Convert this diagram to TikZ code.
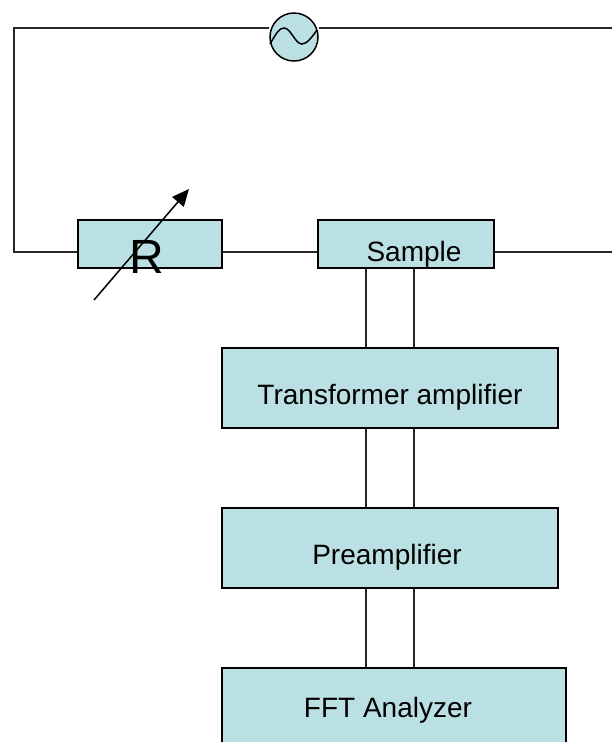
\documentclass[tikz,border=0pt]{standalone}
\usepackage{fontspec}
\setmainfont{Liberation Sans}
\usetikzlibrary{calc, arrows.meta}
\definecolor{boxteal}{HTML}{BBE0E3}
\tikzset{
  block/.style={draw=black, line width=1.5pt, fill=boxteal, inner sep=0pt},
  wire/.style={draw=black!85, line width=1.5pt, line join=miter},
  caption/.style={anchor=base, inner sep=0pt, font=\fontsize{28}{32}\selectfont}
}

\begin{document}
\begin{tikzpicture}[x=1pt, y=-1pt]
    \useasboundingbox (0,0) rectangle (612,742);
    \clip (0,0) rectangle (612,742);

    % Corners and the two parallel leads
    \coordinate (topleft) at (14,28);
    \coordinate (botleft) at (14,252);
    \coordinate (topright) at (612,28);
    \coordinate (botright) at (612,252);
    \coordinate (leadl) at (366,300);
    \coordinate (leadr) at (414,300);

    % Blocks
    \node[block, minimum width=144pt, minimum height=48pt] (resistor) at (150,244) {};
    \node[block, minimum width=176pt, minimum height=48pt] (sample) at (406,244) {};
    \node[block, minimum width=336pt, minimum height=80pt] (transformer) at (390,388) {};
    \node[block, minimum width=336pt, minimum height=80pt] (preamp) at (390,548) {};
    \node[block, minimum width=344pt, minimum height=80pt] (fft) at (394,708) {};
    \node[block, circle, minimum size=48pt] (source) at (294,37) {};

    % Sine in the source
    \draw[line width=1.5pt] (270,44) .. controls (276,34) and (279,28) .. (284,28)
        .. controls (291,28) and (295,44) .. (302,44)
        .. controls (307,44) and (312,37) .. (317,30);

    % Circuit
    \draw[wire] (source.west |- topleft) -- (topleft) -- (botleft) -- (resistor.west |- botleft);
    \draw[wire] (source.east |- topright) -- (topright);
    \draw[wire] (resistor.east |- botleft) -- (sample.west |- botleft);
    \draw[wire] (sample.east |- botright) -- (botright);

    % Leads
    \draw[wire] (sample.south -| leadl) -- (transformer.north -| leadl);
    \draw[wire] (sample.south -| leadr) -- (transformer.north -| leadr);
    \draw[wire] (transformer.south -| leadl) -- (preamp.north -| leadl);
    \draw[wire] (transformer.south -| leadr) -- (preamp.north -| leadr);
    \draw[wire] (preamp.south -| leadl) -- (fft.north -| leadl);
    \draw[wire] (preamp.south -| leadr) -- (fft.north -| leadr);

    % Labels
    \node[anchor=base, inner sep=0pt, font=\fontsize{48}{52}\selectfont] (rlabel) at (147,273) {R};
    \node[caption] (samplelabel) at (414,261) {Sample};
    \node[caption] (transformerlabel) at (390,404) {Transformer amplifier};
    \node[caption] (preamplabel) at (387,564) {Preamplifier};
    \node[caption] (fftlabel) at (388,717) {FFT Analyzer};

    % Variable resistor arrow
    \coordinate (arrowtail) at (94,300);
    \coordinate (arrowhead) at (189,189);
    \draw[-{Triangle[length=17pt, width=15pt]}, line width=1.5pt] (arrowtail) -- (arrowhead);
\end{tikzpicture}
\end{document}
